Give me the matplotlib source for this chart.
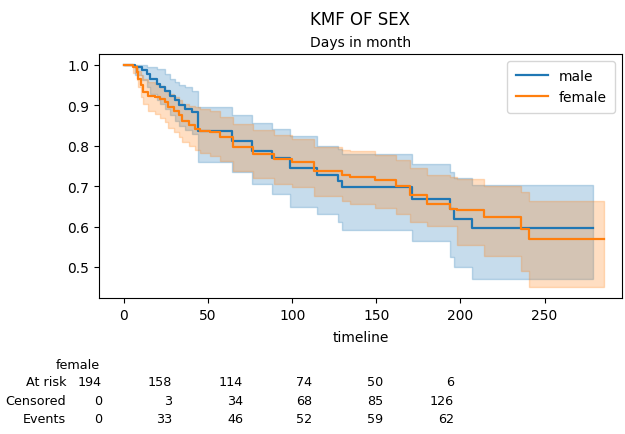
import matplotlib.pyplot as plt

# Kaplan-Meier estimates (step-post)
male_t = [0, 6.5, 10.5, 13.5, 15.5, 19.5, 21.5, 24.5, 27.5, 30.5, 32.5, 36.5, 40.5, 44,
          64, 76, 88, 99, 114.5, 127.5, 129.5, 171, 194, 196, 207, 278.5]
male_s = [1.0, 0.994, 0.988, 0.978, 0.965, 0.953, 0.945, 0.936, 0.924, 0.912, 0.900, 0.891, 0.883, 0.836,
          0.811, 0.788, 0.770, 0.745, 0.728, 0.712, 0.697, 0.668, 0.644, 0.619, 0.597, 0.597]
male_hi = [1.0, 1.0, 1.0, 0.994, 0.994, 0.99, 0.99, 0.978, 0.965, 0.957, 0.95, 0.945, 0.936, 0.895,
           0.875, 0.856, 0.842, 0.825, 0.800, 0.792, 0.78, 0.755, 0.734, 0.72, 0.703, 0.703]
male_lo = [1.0, 0.975, 0.962, 0.945, 0.928, 0.912, 0.902, 0.890, 0.876, 0.862, 0.848, 0.838, 0.828, 0.759,
           0.735, 0.705, 0.68, 0.648, 0.63, 0.61, 0.592, 0.565, 0.524, 0.499, 0.470, 0.470]

female_t = [0, 5.5, 7.5, 8.5, 10, 11.5, 14.5, 18.5, 21.5, 24.5, 26.5, 29.5, 32.5, 34.5, 38.5, 42.5,
            45, 51, 57, 65, 77, 89, 100, 113, 129.5, 134.5, 149.5, 161.5, 170, 180, 194, 198, 214,
            236, 241, 285.5]
female_s = [1.0, 0.994, 0.982, 0.965, 0.949, 0.932, 0.924, 0.92, 0.916, 0.908, 0.895, 0.887, 0.875,
            0.862, 0.85, 0.842, 0.837, 0.833, 0.821, 0.796, 0.780, 0.767, 0.759, 0.738, 0.728, 0.722,
            0.714, 0.700, 0.677, 0.656, 0.644, 0.641, 0.623, 0.594, 0.568, 0.568]
female_hi = [1.0, 1.0, 0.995, 0.985, 0.975, 0.965, 0.957, 0.953, 0.948, 0.936, 0.928, 0.92, 0.912,
             0.903, 0.898, 0.895, 0.89, 0.887, 0.871, 0.853, 0.838, 0.826, 0.817, 0.797, 0.79, 0.786,
             0.778, 0.765, 0.745, 0.728, 0.722, 0.718, 0.701, 0.685, 0.664, 0.664]
female_lo = [1.0, 0.98, 0.962, 0.945, 0.92, 0.903, 0.885, 0.878, 0.868, 0.858, 0.845, 0.833, 0.822,
             0.81, 0.8, 0.79, 0.782, 0.775, 0.762, 0.738, 0.72, 0.705, 0.698, 0.675, 0.663, 0.655,
             0.645, 0.632, 0.61, 0.602, 0.602, 0.553, 0.528, 0.491, 0.450, 0.450]

# at-risk table (female)
at_risk = [194, 158, 114, 74, 50, 6]
censored = [0, 3, 34, 68, 85, 126]
events = [0, 33, 46, 52, 59, 62]

fig = plt.figure(figsize=(6.25, 4.35), dpi=100)
ax = fig.add_axes([0.1584, 0.3126, 0.8368, 0.561])

for t, s, lo, hi, c, lab in [(male_t, male_s, male_lo, male_hi, '#1f77b4', 'male'),
                              (female_t, female_s, female_lo, female_hi, '#ff7f0e', 'female')]:
    ax.fill_between(t, lo, hi, step='post', color=c, alpha=0.25, linewidth=1)
    ax.plot(t, s, drawstyle='steps-post', color=c, lw=1.6, label=lab)

ax.set_xlim(-14.8, 296)
ax.set_ylim(0.423, 1.027)
ax.set_xticks([0, 50, 100, 150, 200, 250])
ax.set_yticks([0.5, 0.6, 0.7, 0.8, 0.9, 1.0])
ax.set_xlabel('timeline', labelpad=6)
ax.set_title('Days in month', fontsize=10)
fig.text(360 / 625, 1 - 20 / 435, 'KMF OF SEX', ha='center', va='center', fontsize=12)
ax.legend(loc='upper right', borderpad=0.6, handlelength=2.3)

# at-risk counts below the axes
W, H = 625, 435
col_x = [102, 172, 243, 312, 383, 454]
row_y = [383, 402, 420]
fig.text(100 / W, 1 - 366 / H, 'female', ha='right', va='center', fontsize=9.2)
for lab, y in zip(['At risk', 'Censored', 'Events'], row_y):
    fig.text(66 / W, 1 - y / H, lab, ha='right', va='center', fontsize=9.2)
for vals, y in zip([at_risk, censored, events], row_y):
    for v, x in zip(vals, col_x):
        fig.text(x / W, 1 - y / H, str(v), ha='right', va='center', fontsize=9.2)

fig.savefig('out.png')
